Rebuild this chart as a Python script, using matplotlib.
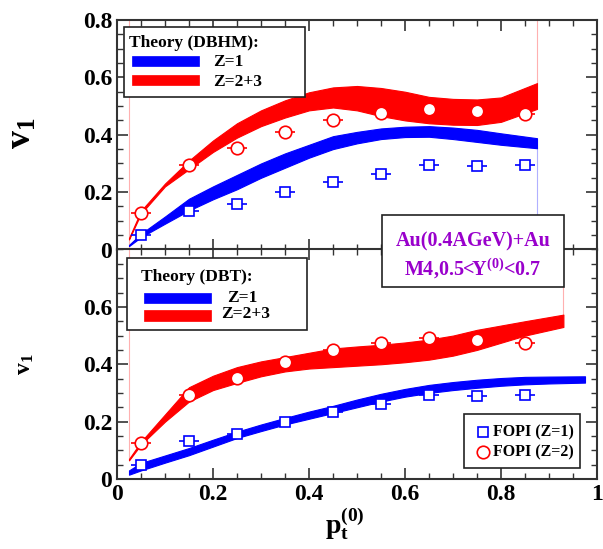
import matplotlib
matplotlib.use('Agg')
import matplotlib.pyplot as plt
import numpy as np
from matplotlib.patches import Rectangle
from matplotlib.transforms import Affine2D
from matplotlib.ticker import MultipleLocator, FixedLocator

plt.rcParams['font.family'] = 'Liberation Serif'
plt.rcParams['font.weight'] = 'bold'
plt.rcParams['mathtext.fontset'] = 'custom'
plt.rcParams['mathtext.rm'] = 'Liberation Serif:bold'
plt.rcParams['mathtext.bf'] = 'Liberation Serif:bold'
plt.rcParams['mathtext.it'] = 'Liberation Serif:bold'

# FOPI data (same in both panels)
pt = [0.05, 0.15, 0.25, 0.35, 0.45, 0.55, 0.65, 0.75, 0.85]
fopi_z1 = [0.05, 0.133, 0.157, 0.199, 0.234, 0.263, 0.294, 0.29, 0.294]
fopi_z2 = [0.126, 0.294, 0.353, 0.409, 0.451, 0.475, 0.49, 0.483, 0.473]
pt_err = 0.02

# DBHM bands (top panel)
dbhm_x = [0.025, 0.05, 0.1, 0.15, 0.2, 0.25, 0.3, 0.35, 0.4, 0.45, 0.5, 0.55,
          0.6, 0.65, 0.7, 0.75, 0.8, 0.875]
dbhm_z1_lo = [0.012, 0.043, 0.09, 0.136, 0.175, 0.21, 0.25, 0.285, 0.32, 0.35,
              0.37, 0.385, 0.392, 0.393, 0.385, 0.375, 0.365, 0.353]
dbhm_z1_hi = [0.016, 0.055, 0.115, 0.177, 0.22, 0.26, 0.30, 0.335, 0.365, 0.395,
              0.41, 0.422, 0.428, 0.43, 0.425, 0.417, 0.405, 0.388]
dbhm_z23_lo = [0.035, 0.125, 0.22, 0.28, 0.34, 0.39, 0.43, 0.46, 0.485, 0.495,
               0.485, 0.465, 0.45, 0.44, 0.435, 0.434, 0.445, 0.49]
dbhm_z23_hi = [0.04, 0.135, 0.23, 0.31, 0.38, 0.44, 0.485, 0.52, 0.548, 0.565,
               0.57, 0.563, 0.55, 0.532, 0.525, 0.523, 0.53, 0.58]

# DBT bands (bottom panel)
dbt_z1_x = [0.025, 0.05, 0.1, 0.15, 0.2, 0.25, 0.3, 0.35, 0.4, 0.45, 0.5, 0.55,
            0.6, 0.65, 0.7, 0.75, 0.8, 0.85, 0.9, 0.975]
dbt_z1_lo = [0.015, 0.03, 0.057, 0.083, 0.113, 0.143, 0.167, 0.19, 0.21, 0.23,
             0.25, 0.27, 0.287, 0.30, 0.31, 0.318, 0.325, 0.33, 0.333, 0.336]
dbt_z1_hi = [0.03, 0.056, 0.082, 0.108, 0.137, 0.165, 0.19, 0.213, 0.235, 0.255,
             0.277, 0.297, 0.314, 0.328, 0.338, 0.346, 0.352, 0.356, 0.357, 0.358]
dbt_z23_x = [0.025, 0.05, 0.1, 0.15, 0.2, 0.25, 0.3, 0.35, 0.4, 0.45, 0.5, 0.55,
             0.6, 0.65, 0.7, 0.75, 0.8, 0.85, 0.93]
dbt_z23_lo = [0.065, 0.12, 0.2, 0.27, 0.31, 0.335, 0.358, 0.375, 0.385, 0.39,
              0.395, 0.40, 0.407, 0.416, 0.43, 0.45, 0.475, 0.50, 0.53]
dbt_z23_hi = [0.07, 0.13, 0.225, 0.32, 0.36, 0.39, 0.41, 0.425, 0.44, 0.455,
              0.462, 0.468, 0.476, 0.486, 0.50, 0.52, 0.535, 0.55, 0.573]

W, H = 603, 549
fig = plt.figure(figsize=(W / 100, H / 100), dpi=100)
pix = Affine2D().scale(1 / W, -1 / H).translate(0, 1) + fig.transFigure

ax1 = fig.add_axes([117 / W, 1 - 249.5 / H, 480 / W, 229.5 / H])
ax2 = fig.add_axes([117 / W, 1 - 479 / H, 480 / W, 229.5 / H])

blue = '#0000ff'
red = '#ff0000'

for ax in (ax1, ax2):
    ax.set_xlim(0, 1)
    ax.set_ylim(0, 0.8)
    ax.xaxis.set_major_locator(MultipleLocator(0.2))
    ax.xaxis.set_minor_locator(MultipleLocator(0.05))
    ax.yaxis.set_minor_locator(MultipleLocator(0.05))
    ax.tick_params(which='both', direction='in', top=True, right=True,
                   labelsize=17, color='#333333')
    ax.tick_params(which='major', length=8, width=1.2)
    ax.tick_params(which='minor', length=4, width=1)
    for s in ax.spines.values():
        s.set_linewidth(1.5)
        s.set_color('#333333')
    # FOPI points
    ax.errorbar(pt, fopi_z1, xerr=pt_err, fmt='s', ms=7, mfc='white', mec=blue,
                mew=1.2, ecolor=blue, elinewidth=1.2, capsize=0, zorder=5)
    ax.errorbar(pt, fopi_z2, xerr=pt_err, fmt='o', ms=9, mfc='white', mec=red,
                mew=1.2, ecolor=red, elinewidth=1.2, capsize=0, zorder=5)

ax1.yaxis.set_major_locator(FixedLocator([0, 0.2, 0.4, 0.6, 0.8]))
ax1.set_yticklabels(['0', '0.2', '0.4', '0.6', '0.8'])
ax1.tick_params(labelbottom=False)
ax2.yaxis.set_major_locator(FixedLocator([0, 0.2, 0.4, 0.6]))
ax2.set_yticklabels(['0', '0.2', '0.4', '0.6'])
ax2.set_xticks([0, 0.2, 0.4, 0.6, 0.8, 1])
ax2.set_xticklabels(['0', '0.2', '0.4', '0.6', '0.8', '1'])

# theory bands
ax1.fill_between(dbhm_x, dbhm_z1_lo, dbhm_z1_hi, color=blue, lw=0.8, zorder=3)
ax1.fill_between(dbhm_x, dbhm_z23_lo, dbhm_z23_hi, color=red, lw=0.8, zorder=3)
ax2.fill_between(dbt_z1_x, dbt_z1_lo, dbt_z1_hi, color=blue, lw=0.8, zorder=3)
ax2.fill_between(dbt_z23_x, dbt_z23_lo, dbt_z23_hi, color=red, lw=0.8, zorder=3)

# faint edge lines of the theory curves
ax1.plot([dbhm_x[0]] * 2, [0, 0.8], color='#ffb0b0', lw=0.8, zorder=2)
ax1.plot([dbhm_x[-1]] * 2, [dbhm_z23_hi[-1], 0.8], color='#ffb0b0', lw=0.8, zorder=2)
ax1.plot([dbhm_x[-1]] * 2, [0.12, dbhm_z1_lo[-1]], color='#b0b0ff', lw=0.8, zorder=2)
ax2.plot([dbt_z23_x[0]] * 2, [dbt_z23_hi[0], 0.8], color='#ffb0b0', lw=0.8, zorder=2)
ax2.plot([dbt_z23_x[-1]] * 2, [dbt_z23_hi[-1], 0.67], color='#ffb0b0', lw=0.8, zorder=2)

# axis labels
fig.text(22, 133, r'$\mathrm{v_1}$', transform=pix, fontsize=26, rotation=90,
         ha='center', va='center')
fig.text(25, 364, r'$\mathrm{v_1}$', transform=pix, fontsize=17, rotation=90,
         ha='center', va='center')
fig.text(345, 524, r'$\mathrm{p_t^{(0)}}$', transform=pix, fontsize=20,
         ha='center', va='center')

# legend boxes
def box(x0, y0, x1, y1):
    fig.add_artist(Rectangle((x0, y1), x1 - x0, y0 - y1, transform=pix,
                             facecolor='white', edgecolor='#222222', lw=1.2,
                             zorder=10))

def bar(x0, y0, x1, y1, c):
    fig.add_artist(Rectangle((x0, y1), x1 - x0, y0 - y1, transform=pix,
                             facecolor=c, edgecolor=c, lw=0.5, alpha=1,
                             zorder=11))

box(124, 27, 305, 97)
fig.text(129, 43, 'Theory (DBHM):', transform=pix, fontsize=12.5,
         va='center', zorder=12)
bar(132, 56, 199, 66, blue)
bar(132, 75, 199, 85, red)
fig.text(213, 62, 'Z=1', transform=pix, fontsize=12.5, va='center', zorder=12)
fig.text(213, 82, 'Z=2+3', transform=pix, fontsize=12.5, va='center', zorder=12)

box(127, 258, 307, 330)
fig.text(141, 277, 'Theory (DBT):', transform=pix, fontsize=12.5,
         va='center', zorder=12)
bar(144, 293, 211, 303, blue)
bar(144, 310, 211, 321, red)
fig.text(227, 298, 'Z=1', transform=pix, fontsize=12.5, va='center', zorder=12)
fig.text(221, 314, 'Z=2+3', transform=pix, fontsize=12.5, va='center', zorder=12)

box(382, 215, 564, 287)
purple = '#9900cc'
fig.text(473, 241, 'Au(0.4AGeV)+Au', transform=pix, fontsize=14.5,
         color=purple, ha='center', va='center', zorder=12)
fig.text(473, 269, r'M4,0.5<Y$^{(0)}$<0.7', transform=pix, fontsize=14.5,
         color=purple, ha='center', va='center', zorder=12)

box(464, 414, 580, 468)
fig.add_artist(plt.Line2D([483], [432], transform=pix, marker='s', ms=7,
                          mfc='white', mec=blue, mew=1.2, zorder=12))
fig.add_artist(plt.Line2D([483], [452], transform=pix, marker='o', ms=9,
                          mfc='white', mec=red, mew=1.2, zorder=12))
fig.text(493, 432, 'FOPI (Z=1)', transform=pix, fontsize=11.5, va='center',
         zorder=12)
fig.text(493, 452, 'FOPI (Z=2)', transform=pix, fontsize=11.5, va='center',
         zorder=12)

fig.savefig('out.png', dpi=100)
